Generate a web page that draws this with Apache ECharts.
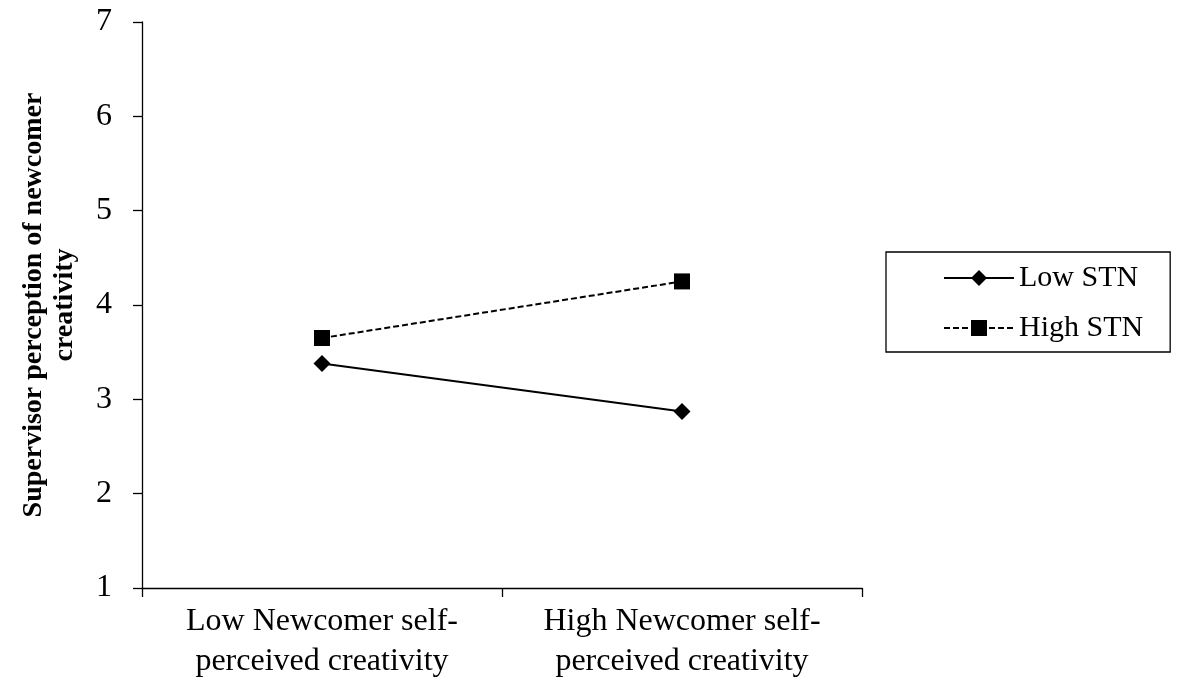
<!DOCTYPE html>
<html>
<head>
<meta charset="utf-8">
<script src="https://cdn.jsdelivr.net/npm/echarts@6/dist/echarts.min.js"></script>
<style>html,body{margin:0;padding:0;background:#fff;}#c{width:1184px;height:685px;}</style>
</head>
<body>
<div id="c"></div>
<script>
var categories = ['Low Newcomer self-\nperceived creativity', 'High Newcomer self-\nperceived creativity'];
var lowSTN = [3.38, 2.87];
var highSTN = [3.65, 4.25];
var yTicks = [1, 7, 1];
var yTitle = 'Supervisor perception of newcomer\ncreativity';
var seriesNames = ['Low STN', 'High STN'];

var FONT = '"Liberation Serif", "Times New Roman", serif';
var chart = echarts.init(document.getElementById('c'));
chart.setOption({
  animation: false,
  backgroundColor: '#fff',
  grid: {left: 142, right: 322, top: 22, bottom: 97, containLabel: false, outerBoundsMode: 'none'},
  legend: {
    orient: 'vertical',
    left: 886, top: 252,
    padding: [11, 27, 9, 57],
    itemGap: 20,
    itemWidth: 70, itemHeight: 20,
    borderColor: '#000', borderWidth: 1.3,
    textStyle: {fontFamily: FONT, fontSize: 30, color: '#000', lineHeight: 30},
    data: seriesNames
  },
  xAxis: {
    type: 'category',
    data: categories,
    boundaryGap: true,
    axisLine: {lineStyle: {color: '#000', width: 1.3}},
    axisTick: {show: true, interval: 0, length: 9, inside: false, lineStyle: {color: '#000', width: 1.3}},
    axisLabel: {interval: 0, hideOverlap: false, fontFamily: FONT, fontSize: 32, color: '#000', lineHeight: 40, margin: 14}
  },
  yAxis: {
    type: 'value',
    min: yTicks[0], max: yTicks[1], interval: yTicks[2],
    name: yTitle,
    nameLocation: 'middle',
    nameGap: 62,
    nameTextStyle: {fontFamily: FONT, fontSize: 28, fontWeight: 'bold', color: '#000', lineHeight: 31},
    axisLine: {show: true, lineStyle: {color: '#000', width: 1.3}},
    axisTick: {show: true, length: 9, lineStyle: {color: '#000', width: 1.3}},
    splitLine: {show: false},
    axisLabel: {fontFamily: FONT, fontSize: 32, color: '#000', margin: 30}
  },
  series: [
    {
      name: seriesNames[0], type: 'line', data: lowSTN,
      symbol: 'diamond', symbolSize: 17,
      itemStyle: {color: '#000'},
      lineStyle: {color: '#000', width: 2, type: 'solid'}
    },
    {
      name: seriesNames[1], type: 'line', data: highSTN,
      symbol: 'rect', symbolSize: 16,
      itemStyle: {color: '#000'},
      lineStyle: {color: '#000', width: 2, type: [6, 3]}
    }
  ]
});
</script>
</body>
</html>
